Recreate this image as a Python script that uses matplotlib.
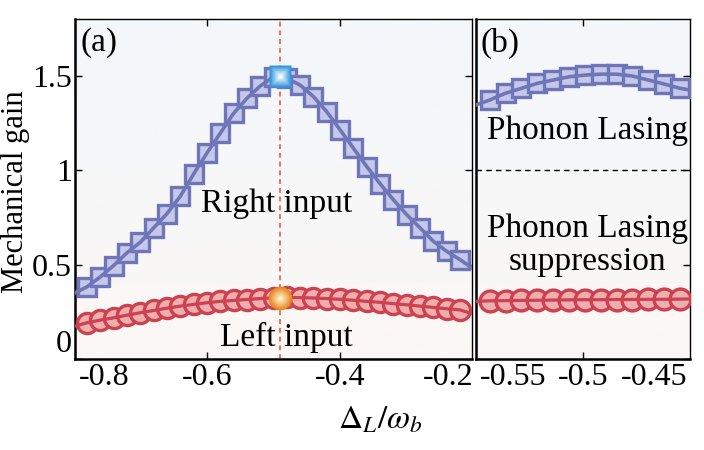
import numpy as np
import matplotlib
matplotlib.use("Agg")
import matplotlib.pyplot as plt
from matplotlib.colors import LinearSegmentedColormap, to_rgb

plt.rcParams['font.family'] = ['Liberation Serif', 'DejaVu Serif']
plt.rcParams['mathtext.fontset'] = 'stix'

# ---------------- data ----------------
# panel (a)
xa = [-0.78, -0.76, -0.74, -0.72, -0.70, -0.68, -0.66, -0.64, -0.62, -0.60,
      -0.58, -0.56, -0.54, -0.52, -0.50, -0.48, -0.46, -0.44, -0.42, -0.40,
      -0.38, -0.36, -0.34, -0.32, -0.30, -0.28, -0.26, -0.24, -0.22]
right_a = [0.382, 0.435, 0.495, 0.562, 0.618, 0.694, 0.769, 0.861, 0.979, 1.09,
           1.195, 1.30, 1.38, 1.445, 1.494, 1.487, 1.450, 1.389, 1.309, 1.213,
           1.116, 1.019, 0.928, 0.843, 0.764, 0.694, 0.623, 0.570, 0.526]
left_a = [0.192, 0.206, 0.218, 0.232, 0.245, 0.257, 0.269, 0.280, 0.289, 0.298,
          0.305, 0.310, 0.315, 0.320, 0.324, 0.326, 0.325, 0.323, 0.320, 0.316,
          0.311, 0.305, 0.300, 0.293, 0.287, 0.280, 0.273, 0.266, 0.260]
# curve end values at the frame edges
edge_x_a = [-0.798, -0.202]
right_a_edges = [0.35, 0.483]
left_a_edges = [0.174, 0.24]

# panel (b)
xb = [-0.565, -0.554, -0.543, -0.532, -0.521, -0.510, -0.499, -0.488, -0.477,
      -0.466, -0.455, -0.444, -0.433]
right_b = [1.371, 1.407, 1.433, 1.459, 1.477, 1.494, 1.503, 1.508, 1.508,
           1.498, 1.477, 1.456, 1.433]
left_b = [0.308, 0.309, 0.310, 0.311, 0.312, 0.313, 0.314, 0.314, 0.315,
          0.315, 0.316, 0.316, 0.317]
edge_x_b = [-0.5745, -0.426]
right_b_edges = [1.345, 1.424]
left_b_edges = [0.305, 0.318]

# highlighted optimum
peak_x = -0.49
peak_right = 1.50
peak_left = 0.324
threshold = 1.0

yticks = [0, 0.5, 1, 1.5]
ytick_labels = ['0', '0.5', '1', '1.5']
xa_major = [-0.6, -0.4]
xa_major_labels = ['-0.6', '-0.4']
xa_extra = [-0.754, -0.237]
xa_extra_labels = ['-0.8', '-0.2']
xb_major = [-0.5]
xb_major_labels = ['-0.5']
xb_extra = [-0.549, -0.451]
xb_extra_labels = ['-0.55', '-0.45']

# ---------------- style ----------------
BLUE_E = '#6e76b9'
BLUE_F = '#c5c8e6'
RED_E = '#cd4150'
RED_F = '#f0afaf'
FS_TICK = 23
FS_TXT = 24
FS_LAB = 22

fig = plt.figure(figsize=(7.04, 4.5), dpi=100)
axa = fig.add_axes([75/704, 1-359/450, (472-75)/704, (359-19)/450])
axb = fig.add_axes([476/704, 1-359/450, (690-476)/704, (359-19)/450])

bg = LinearSegmentedColormap.from_list('bg', ['#fcf7f5', '#f3f7fb'])


def add_bg(ax):
    grad = np.linspace(0, 1, 256).reshape(-1, 1)
    ax.imshow(grad, cmap=bg, aspect='auto', extent=[0, 1, 0, 1],
              transform=ax.transAxes, origin='lower', zorder=0)


def gradient_marker(ax, x, y, marker, size, outer, inner, n=14):
    o = np.array(to_rgb(outer))
    i = np.array(to_rgb(inner))
    for k in range(n):
        t = k / (n - 1)
        c = o * (1 - t) + i * t
        s = size * (1 - 0.92 * t)
        ax.plot([x], [y], marker=marker, ms=s, mfc=c, mec='none',
                ls='none', zorder=6)


for ax in (axa, axb):
    add_bg(ax)
    ax.set_ylim(0, 1.8)
    ax.set_yticks(yticks)
    ax.tick_params(direction='in', length=5, width=1, labelsize=FS_TICK,
                   top=True, right=True)
    for s in ax.spines.values():
        s.set_linewidth(1.0)
    ax.spines['left'].set_linewidth(1.8)
    ax.spines['bottom'].set_linewidth(1.8)
    ax.tick_params(axis='x', pad=3)
    ax.tick_params(axis='y', pad=2)

# panel (a)
axa.set_xlim(edge_x_a)
axa.plot(xa, right_a, ls='none', marker='s', ms=13, mfc=BLUE_F, mec=BLUE_E,
         mew=2.4, zorder=3)
axa.plot([edge_x_a[0]] + xa + [edge_x_a[1]],
         [right_a_edges[0]] + right_a + [right_a_edges[1]],
         color=BLUE_E, lw=2.6, zorder=4)
axa.plot(xa, left_a, ls='none', marker='o', ms=14.5, mfc=RED_F, mec=RED_E,
         mew=2.4, zorder=3)
axa.plot([edge_x_a[0]] + xa + [edge_x_a[1]],
         [left_a_edges[0]] + left_a + [left_a_edges[1]],
         color=RED_E, lw=2.3, zorder=4)
axa.axvline(peak_x, color='#e8705f', lw=1.4, ls=(0, (2.5, 2)), zorder=2)
gradient_marker(axa, peak_x, peak_right, 's', 15.5, '#2f95dc', '#ffffff')
gradient_marker(axa, peak_x, peak_left, 'o', 17, '#e8821c', '#fff7d0')

axa.set_yticklabels(ytick_labels)
axa.set_xticks(xa_major)
axa.set_xticklabels(xa_major_labels)
axa.set_xticks(xa_extra, minor=True)
axa.set_xticklabels(xa_extra_labels, minor=True)
axa.tick_params(axis='x', which='minor', length=0, labelsize=FS_TICK, pad=3)
axa.get_yticklabels()[0].set_va('bottom')

axa.text(0.015, 0.975, '(a)', transform=axa.transAxes, fontsize=FS_TXT,
         ha='left', va='top', zorder=8)
axa.text(-0.495, 0.82, 'Right input', fontsize=FS_TXT, ha='center',
         va='center', zorder=8)
axa.text(-0.48, 0.115, 'Left input', fontsize=FS_TXT, ha='center',
         va='center', zorder=8)

# panel (b)
axb.set_xlim(edge_x_b)
axb.plot(xb, right_b, ls='none', marker='s', ms=12.5, mfc=BLUE_F, mec=BLUE_E,
         mew=2.4, zorder=3)
axb.plot([edge_x_b[0]] + xb + [edge_x_b[1]],
         [right_b_edges[0]] + right_b + [right_b_edges[1]],
         color=BLUE_E, lw=2.6, zorder=4)
axb.plot(xb, left_b, ls='none', marker='o', ms=15, mfc=RED_F, mec=RED_E,
         mew=2.4, zorder=3)
axb.plot([edge_x_b[0]] + xb + [edge_x_b[1]],
         [left_b_edges[0]] + left_b + [left_b_edges[1]],
         color=RED_E, lw=2.3, zorder=4)
axb.axhline(threshold, color='black', lw=1.0, ls=(0, (4, 3)), zorder=2)

axb.set_yticklabels([])
axb.tick_params(axis='y', left=False)
axb.set_xticks(xb_major)
axb.set_xticklabels(xb_major_labels)
axb.set_xticks(xb_extra, minor=True)
axb.set_xticklabels(xb_extra_labels, minor=True)
axb.tick_params(axis='x', which='minor', length=0, labelsize=FS_TICK, pad=3)

axb.text(0.02, 0.975, '(b)', transform=axb.transAxes, fontsize=FS_TXT,
         ha='left', va='top', zorder=8)
axb.text(0.52, 0.67, 'Phonon Lasing', transform=axb.transAxes,
         fontsize=FS_TXT, ha='center', va='center', zorder=8)
axb.text(0.52, 0.335, 'Phonon Lasing\nsuppression', transform=axb.transAxes,
         fontsize=FS_TXT, ha='center', va='center', linespacing=1.1, zorder=8)

fig.text(380/704, 1-420/450, r'$\Delta_L/\omega_b$', fontsize=FS_TXT,
         ha='center', va='center')
fig.text(15.5/704, 1-192/450, 'Mechanical gain', fontsize=FS_LAB,
         rotation=90, ha='center', va='center')

fig.savefig('out.png', dpi=100)
